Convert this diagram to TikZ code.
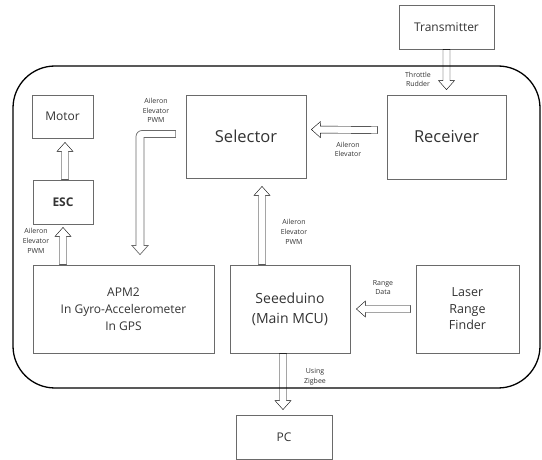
\documentclass[tikz,border=0pt]{standalone}
\usepackage{fontspec}
\setmainfont{Open Sans}
\usepackage{tikz}
\usetikzlibrary{positioning,calc}
\definecolor{boxline}{HTML}{6A6A6A}
\definecolor{boxtext}{HTML}{333333}

\tikzset{
  blk/.style={draw=boxline,line width=0.8pt,align=center,text=boxtext,
    inner sep=0pt,font=\fontsize{12}{16}\selectfont},
  bigtxt/.style={font=\fontsize{16.5}{20}\selectfont},
  lbl/.style={align=center,text=boxtext,inner sep=0pt,font=\fontsize{7}{9.7}\selectfont},
  hollow/.style={draw=boxline,line width=0.7pt},
  blockarrow/.style={hollow,to path={let \p1=(\tikztostart), \p2=(\tikztotarget),
    \n1={atan2(\y2-\y1,\x2-\x1)}, \n2={veclen(\x2-\x1,\y2-\y1)} in
    ($(\p1)+({\n1+90}:3.5pt)$) -- ($(\p1)+(\n1:{\n2-9pt})+({\n1+90}:3.5pt)$)
    -- ($(\p1)+(\n1:{\n2-9pt})+({\n1+90}:8pt)$) -- (\p2)
    -- ($(\p1)+(\n1:{\n2-9pt})+({\n1-90}:8pt)$)
    -- ($(\p1)+(\n1:{\n2-9pt})+({\n1-90}:3.5pt)$)
    -- ($(\p1)+({\n1-90}:3.5pt)$) -- cycle}}
}

\begin{document}
\begin{tikzpicture}[x=1pt,y=-1pt]
    \useasboundingbox (0,0) rectangle (542,460);
    % On-board frame
    \draw[line width=1.3pt,rounded corners=42pt] (13,66) rectangle (540,388);
    % Blocks
    \node[blk,minimum width=95,minimum height=44] (trans) at (446.5,27) {Transmitter};
    \node[blk,bigtxt,minimum width=119,minimum height=84] (recv) at (446.5,137) {Receiver};
    \node[blk,bigtxt,minimum width=120,minimum height=83] (sel) at (246,136.5) {Selector};
    \node[blk,minimum width=61,minimum height=43] (motor) at (62.5,116.5) {Motor};
    \node[blk,minimum width=60,minimum height=44,font=\fontsize{12}{16}\selectfont\bfseries] (esc) at (63,202) {ESC};
    \node[blk,minimum width=181,minimum height=88,font=\fontsize{12}{17}\selectfont] (apm) at (123.5,309)
      {APM2\\In Gyro-Accelerometer\\In GPS};
    \node[blk,minimum width=120,minimum height=88,font=\fontsize{14}{20}\selectfont] (seeed) at (290,309)
      {Seeeduino\\(Main MCU)};
    \node[blk,minimum width=103,minimum height=88,font=\fontsize{12.5}{16.5}\selectfont] (laser) at (467.5,309)
      {Laser\\Range\\Finder};
    \node[blk,minimum width=96,minimum height=44] (pc) at (284,437) {PC};
    % Signals
    \draw (trans.south) to[blockarrow] ($(recv.north)+(0,-5)$);
    \draw ($(recv.west)+(-9,-7)$) to[blockarrow] ($(sel.east)+(5,-7)$);
    \draw ($(seeed.north)+(-28,0)$) to[blockarrow] ($(sel.south)+(16,8)$);
    \draw ($(esc.north)+(2,0)$) to[blockarrow] ($(motor.south)+(2.5,4)$);
    \draw ($(apm.north)+(-60.5,0)$) to[blockarrow] ($(esc.south)+(0,3)$);
    \draw ($(laser.west)+(-5,0)$) to[blockarrow] ($(seeed.east)+(6,0)$);
    \draw ($(seeed.south)+(-7,0)$) to[blockarrow] ($(pc.north)+(-1,-5)$);
    % Selector to APM2, bent
    \coordinate (bendstart) at ($(sel.west)+(-10,-2.5)$);
    \coordinate (bendtip) at ($(apm.north)+(16.5,-10)$);
    \draw[hollow] let \p1=(bendstart), \p2=(bendtip) in
      (\x1,\y1+3.5pt) [rounded corners=6pt] -- (\x2-4pt,\y1+3.5pt) [sharp corners]
      -- (\x2-4pt,\y2+9pt) -- (\x2-8pt,\y2+9pt) -- (\p2) -- (\x2+8pt,\y2+9pt)
      -- (\x2+4pt,\y2+9pt) -- (\x2+4pt,\y1-3.5pt) -- (\x1,\y1-3.5pt) -- cycle;
    % Labels
    \node[lbl] (lblthr) at (418,79.5) {Throttle\\Rudder};
    \node[lbl] (lblrs) at (348,149.5) {Aileron\\Elevator};
    \node[lbl] (lblsa) at (156,110.5) {Aileron\\Elevator\\PWM};
    \node[lbl] (lblss) at (294,232) {Aileron\\Elevator\\PWM};
    \node[lbl] (lblae) at (36,241) {Aileron\\Elevator\\PWM};
    \node[lbl] (lblrange) at (383,287.5) {Range\\Data};
    \node[lbl] (lblzig) at (315,376.5) {Using\\Zigbee};
\end{tikzpicture}
\end{document}
